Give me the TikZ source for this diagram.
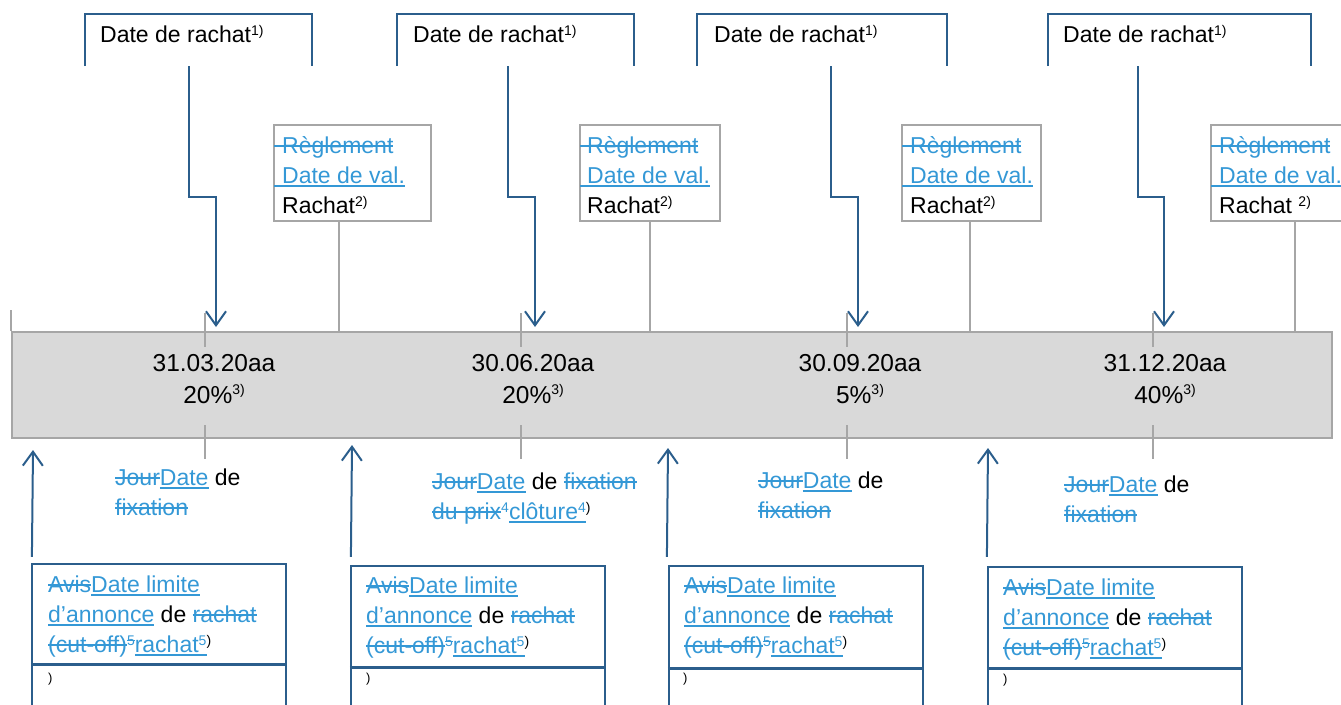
\documentclass[tikz,border=0pt]{standalone}
\usepackage{fontspec}
\setmainfont{Liberation Sans}
\usetikzlibrary{arrows.meta}
\definecolor{dblue}{RGB}{43,94,140}
\definecolor{lblue}{RGB}{52,152,214}
\definecolor{lgray}{RGB}{166,166,166}
\definecolor{bandfill}{RGB}{217,217,217}
\newsavebox\markbox
\newcommand{\strk}[1]{{\color{lblue}\sbox\markbox{#1}\rlap{\rule[0.27em]{\wd\markbox}{1.5pt}}\usebox\markbox}}
\newcommand{\insr}[1]{{\color{lblue}\sbox\markbox{#1}\rlap{\rule[-0.17em]{\wd\markbox}{1.5pt}}\usebox\markbox}}
\newcommand{\sups}[1]{\raisebox{0.3em}{\fontsize{14}{14}\selectfont #1}}
\newcommand{\bsups}[1]{\raisebox{0.36em}{\fontsize{14}{14}\selectfont #1}}
\begin{document}
\begin{tikzpicture}[x=1pt,y=-1pt,
  bline/.style={draw=dblue, line width=2pt},
  barrow/.style={-{Straight Barb[length=14pt,width=20pt]}},
  gline/.style={draw=lgray, line width=2pt},
  tbox/.style={inner sep=0pt, minimum height=52pt},
  gbox/.style={draw=lgray, line width=2pt, inner sep=0pt, minimum height=96pt},
  bbox/.style={draw=dblue, line width=2.2pt, inner sep=0pt, minimum height=156pt, minimum width=254pt},
  bandbox/.style={draw=lgray, line width=2pt, fill=bandfill, inner sep=0pt, minimum width=1320pt, minimum height=106pt},
  txt/.style={font=\fontsize{23}{30}\selectfont, inner sep=0pt, anchor=base west, align=left},
  bandtxt/.style={font=\fontsize{24.5}{32}\selectfont, inner sep=0pt, anchor=base, align=center},
  paren/.style={font=\fontsize{13}{13}\selectfont, inner sep=0pt, anchor=base west},
]
\useasboundingbox (0,0) rectangle (1341,704);
\clip (0,0) rectangle (1341,704);

% band
\node[bandbox] (band) at (672,385) {};
\draw[gline] (band.north west) -- ++(0,-21);
\foreach \x in {205,521,847,1153}{
  \draw[gline] (\x,313) -- (\x,347);
  \draw[gline] (\x,425) -- (\x,459);
}
\node[bandtxt] (d1) at (214,403) {31.03.20aa\\20\%\bsups{3)}};
\node[bandtxt] (d2) at (533,403) {30.06.20aa\\20\%\bsups{3)}};
\node[bandtxt] (d3) at (860,403) {30.09.20aa\\5\%\bsups{3)}};
\node[bandtxt] (d4) at (1165,403) {31.12.20aa\\40\%\bsups{3)}};

% top brackets
\node[tbox, minimum width=227pt] (t1) at (198.5,40) {};
\node[tbox, minimum width=237pt] (t2) at (515.5,40) {};
\node[tbox, minimum width=250pt] (t3) at (822,40) {};
\node[tbox, minimum width=263pt] (t4) at (1179.5,40) {};
\foreach \t in {t1,t2,t3,t4}{
  \draw[bline] (\t.south west) -- (\t.north west) -- (\t.north east) -- (\t.south east);
}
\node[txt] (t1l) at (100,42) {Date de rachat\sups{1)}};
\node[txt] (t2l) at (413,42) {Date de rachat\sups{1)}};
\node[txt] (t3l) at (714,42) {Date de rachat\sups{1)}};
\node[txt] (t4l) at (1063,42) {Date de rachat\sups{1)}};

% down arrows
\coordinate (a1) at (216,327);
\coordinate (a2) at (535,327);
\coordinate (a3) at (858,327);
\coordinate (a4) at (1164,327);
\draw[bline, barrow] ([xshift=-9.5pt]t1.south) -- ++(0,131) -| (a1);
\draw[bline, barrow] ([xshift=-7.5pt]t2.south) -- ++(0,131) -| (a2);
\draw[bline, barrow] ([xshift=9pt]t3.south) -- ++(0,131) -| (a3);
\draw[bline, barrow] ([xshift=-41.5pt]t4.south) -- ++(0,131) -| (a4);

% gray boxes
\node[gbox, minimum width=157pt] (g1) at (352.5,173) {};
\node[gbox, minimum width=140pt] (g2) at (650,173) {};
\node[gbox, minimum width=139pt] (g3) at (971.5,173) {};
\node[gbox, minimum width=140pt] (g4) at (1281,173) {};
\node[txt] (g1t) at (274,213) {\strk{\hspace*{8pt}Règlement}\\\insr{\hspace*{8pt}Date de val.}\\\hspace*{8pt}Rachat\sups{2)}};
\node[txt] (g2t) at (580,213) {\strk{\hspace*{7pt}Règlement}\\\insr{\hspace*{7pt}Date de val.}\\\hspace*{7pt}Rachat\sups{2)}};
\node[txt] (g3t) at (902,213) {\strk{\hspace*{8pt}Règlement}\\\insr{\hspace*{8pt}Date de val.}\\\hspace*{8pt}Rachat\sups{2)}};
\node[txt] (g4t) at (1211,213) {\strk{\hspace*{8pt}Règlement}\\\insr{\hspace*{8pt}Date de val.}\\\hspace*{8pt}Rachat \sups{2)}};
\draw[gline] ([xshift=66pt]g1.south west) -- ([xshift=66pt]g1.south west |- band.north);
\draw[gline] ([xshift=71pt]g2.south west) -- ([xshift=71pt]g2.south west |- band.north);
\draw[gline] ([xshift=69pt]g3.south west) -- ([xshift=69pt]g3.south west |- band.north);
\draw[gline] ([xshift=85pt]g4.south west) -- ([xshift=85pt]g4.south west |- band.north);

% labels below band
\node[txt] (l1) at (115,515) {\strk{Jour}\insr{Date} de\\\strk{fixation}};
\node[txt] (l2) at (432,519) {\strk{Jour}\insr{Date} de \strk{fixation}\\\strk{du prix}{\color{lblue}\sups{4}}\insr{clôture\sups{4}}\sups{)}};
\node[txt] (l3) at (758,518) {\strk{Jour}\insr{Date} de\\\strk{fixation}};
\node[txt] (l4) at (1064,522) {\strk{Jour}\insr{Date} de\\\strk{fixation}};

% blue boxes
\node[bbox] (b1) at (159,642) {};
\node[bbox] (b2) at (478,644) {};
\node[bbox] (b3) at (796,644) {};
\node[bbox] (b4) at (1115,645) {};
\draw[draw=dblue, line width=3pt] (b1.west |- 0,664) -- (b1.east |- 0,664);
\draw[draw=dblue, line width=3pt] (b2.west |- 0,667) -- (b2.east |- 0,667);
\draw[draw=dblue, line width=3pt] (b3.west |- 0,668) -- (b3.east |- 0,668);
\draw[draw=dblue, line width=3pt] (b4.west |- 0,668) -- (b4.east |- 0,668);
\node[txt] (b1t) at (48,652) {\strk{Avis}\insr{Date limite}\\\insr{d’annonce} de \strk{rachat}\\\strk{(cut-off)}\sups{\strk{5}}\insr{rachat\sups{5}}\sups{)}};
\node[txt] (b2t) at (366,653) {\strk{Avis}\insr{Date limite}\\\insr{d’annonce} de \strk{rachat}\\\strk{(cut-off)}\sups{\strk{5}}\insr{rachat\sups{5}}\sups{)}};
\node[txt] (b3t) at (684,653) {\strk{Avis}\insr{Date limite}\\\insr{d’annonce} de \strk{rachat}\\\strk{(cut-off)}\sups{\strk{5}}\insr{rachat\sups{5}}\sups{)}};
\node[txt] (b4t) at (1003,655) {\strk{Avis}\insr{Date limite}\\\insr{d’annonce} de \strk{rachat}\\\strk{(cut-off)}\sups{\strk{5}}\insr{rachat\sups{5}}\sups{)}};
\node[paren] (b1p) at (48,682) {)};
\node[paren] (b2p) at (366,682) {)};
\node[paren] (b3p) at (683,682) {)};
\node[paren] (b4p) at (1003,683) {)};

% up arrows
\coordinate (u1) at (33,450);
\coordinate (u2) at (352,445);
\coordinate (u3) at (668,448);
\coordinate (u4) at (988,448);
\draw[bline, barrow] ([xshift=1pt,yshift=6pt]b1.north west) -- (u1);
\draw[bline, barrow] ([xshift=1pt,yshift=8pt]b2.north west) -- (u2);
\draw[bline, barrow] ([xshift=-1pt,yshift=8pt]b3.north west) -- (u3);
\draw[bline, barrow] ([yshift=9pt]b4.north west) -- (u4);
\end{tikzpicture}
\end{document}
